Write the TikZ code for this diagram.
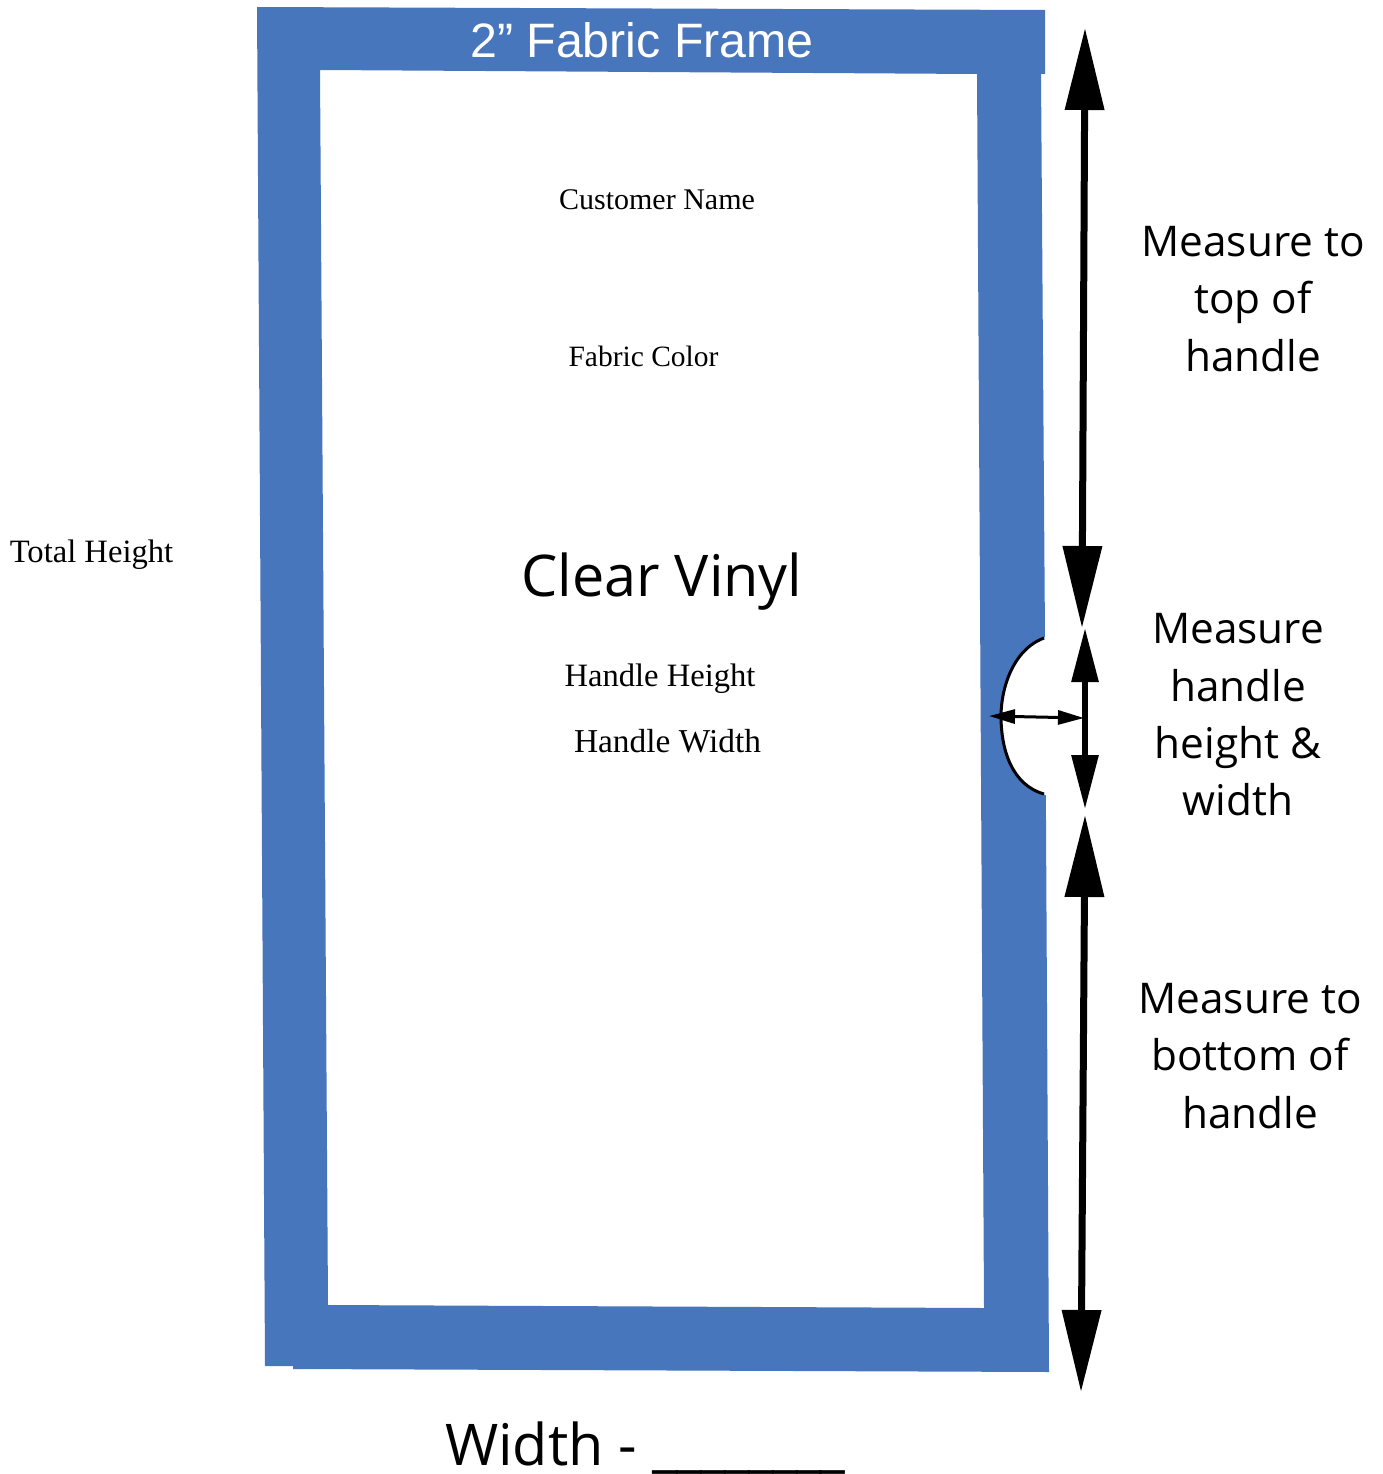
\documentclass[tikz,border=0pt]{standalone}
\usepackage{fontspec}
\setmainfont{Liberation Serif}
\newfontfamily\myriadface{Open Sans}
\newfontfamily\arialface{Liberation Sans}
\usetikzlibrary{arrows.meta}
\definecolor{cc}{RGB}{72, 118, 188}

\tikzset{
  serifnote/.style={inner sep=0pt, anchor=center, font=\fontsize{30}{36}\selectfont},
  handlenote/.style={inner sep=0pt, anchor=center, font=\fontsize{32.6}{38}\selectfont},
  sideblock/.style={inner sep=0pt, align=center, anchor=center, font=\myriadface\fontsize{42.3}{57.3}\selectfont},
  bigarrow/.style={line width=7pt, color=black, {Triangle[length=82pt,width=38pt]}-{Triangle[length=82pt,width=38pt]}},
  midarrow/.style={line width=6pt, color=black, {Triangle[length=54pt,width=26pt]}-{Triangle[length=54pt,width=26pt]}},
  smallarrow/.style={line width=3pt, color=black, {Triangle[length=26pt,width=14pt]}-{Triangle[length=26pt,width=14pt]}}
}

\begin{document}
\begin{tikzpicture}[x=1pt, y=-1pt]
\useasboundingbox (0, 0) rectangle (1383, 1474);
% frame
\fill [cc, even odd rule] (257, 7) -- (1045, 10) -- (1045, 74) -- (1041, 74) -- (1045, 640) -- (1049, 1372) -- (293, 1369) -- (293, 1366) -- (265, 1366) -- cycle
  (320, 70) -- (977, 74) -- (984, 1308) -- (328, 1305) -- cycle;
% handle cutout
\fill [white] (1046, 637) .. controls (1012, 650) and (1001, 690) .. (1001, 716) .. controls (1001, 750) and (1012, 785) .. (1046, 795) -- cycle;
\draw [line width=3pt, color=black] (1044, 638) .. controls (1012, 650) and (1001, 690) .. (1001, 716) .. controls (1001, 750) and (1012, 785) .. (1044, 794);
% labels
\node (title) [inner sep=0pt, text=white, font=\arialface\fontsize{48.3}{55}\selectfont] at (642, 40) {2” Fabric Frame};
\node (customer) [serifnote] at (657, 200) {Customer Name};
\node (color) [serifnote, font=\fontsize{29.5}{36}\selectfont] at (643.5, 356) {Fabric Color};
\node (total) [handlenote] at (91.5, 555) {Total Height};
\node (vinyl) [inner sep=0pt, font=\myriadface\fontsize{57.5}{72}\selectfont] at (662, 582) {Clear Vinyl};
\node (hheight) [handlenote] at (660, 679) {Handle Height};
\node (hwidth) [handlenote, font=\fontsize{33.4}{38}\selectfont] at (667.5, 741) {Handle Width};
\node (top) [sideblock] at (1253, 299) {Measure to\\top of\\handle};
\node (mid) [sideblock] at (1238, 715) {Measure\\handle\\height \&\\width};
\node (bottom) [sideblock] at (1250, 1056) {Measure to\\bottom of\\handle};
\node (width) [inner sep=0pt, anchor=west, font=\myriadface\fontsize{57.5}{72}\selectfont] at (445, 1448) {Width - \_\kern-1.8pt\_\kern-1.8pt\_\kern-1.8pt\_\kern-1.8pt\_\kern-1.8pt\_\kern-1.8pt\_\kern-1.8pt\_};
% arrows
\coordinate (a1) at (1085, 28);
\coordinate (a2) at (1082, 628);
\coordinate (b1) at (1085, 628);
\coordinate (b2) at (1085, 809);
\coordinate (c1) at (1085, 815);
\coordinate (c2) at (1081, 1392);
\coordinate (d1) at (989, 716);
\coordinate (d2) at (1084, 718);
\draw [bigarrow] (a1) to (a2);
\draw [midarrow] (b1) to (b2);
\draw [bigarrow] (c1) to (c2);
\draw [smallarrow] (d1) to (d2);
\end{tikzpicture}
\end{document}
